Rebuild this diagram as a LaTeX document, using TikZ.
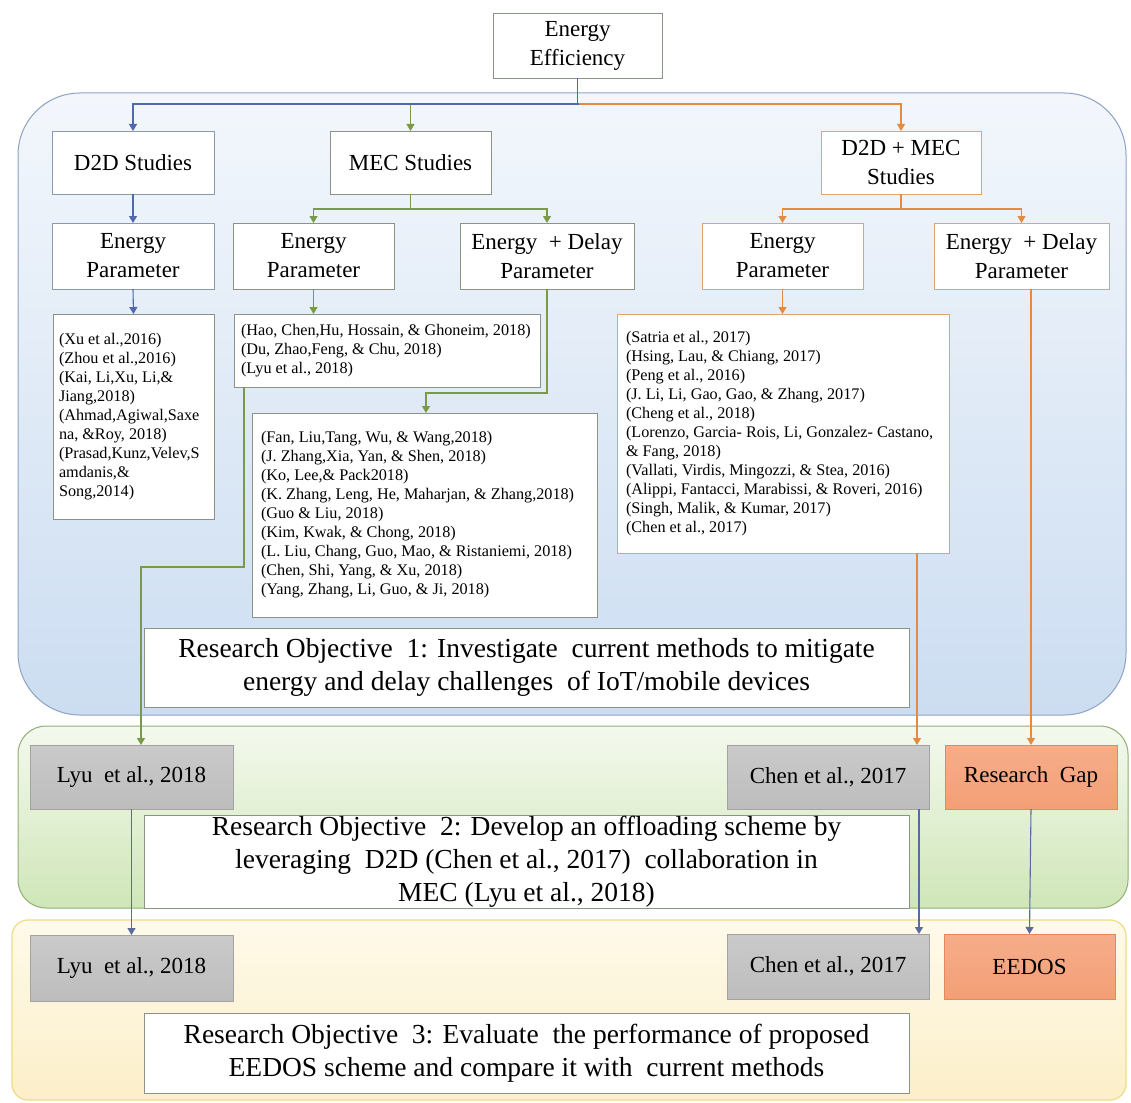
\documentclass[tikz,border=0pt]{standalone}
\usepackage{fontspec}
\setmainfont{LiberationSerif}[Extension=.ttf,UprightFont=*-Regular,BoldFont=*-Bold,ItalicFont=*-Italic,BoldItalicFont=*-BoldItalic]
\usetikzlibrary{arrows.meta}

\definecolor{cBlue}{HTML}{5068AE}
\definecolor{cGreen}{HTML}{7A9A48}
\definecolor{cOrange}{HTML}{E58A3E}
\definecolor{cDown}{HTML}{5A6C9E}
\definecolor{edgeGrey}{HTML}{8A9484}
\definecolor{edgeBlue}{HTML}{8C98B0}
\definecolor{edgeTan}{HTML}{D9A86C}
\definecolor{blueTop}{HTML}{F3F7FC}
\definecolor{blueBot}{HTML}{CCDDF1}
\definecolor{blueEdge}{HTML}{8EA2C4}
\definecolor{greenTop}{HTML}{F4F9EE}
\definecolor{greenBot}{HTML}{CFE6B8}
\definecolor{greenEdge}{HTML}{93AE72}
\definecolor{yellowTop}{HTML}{FEFAEA}
\definecolor{yellowBot}{HTML}{FCEFC9}
\definecolor{yellowEdge}{HTML}{EEDC86}
\definecolor{greyTop}{HTML}{CACACA}
\definecolor{greyFill}{HTML}{BDBDBD}
\definecolor{greyEdge}{HTML}{A3A3A3}
\definecolor{orangeTop}{HTML}{F6AD8A}
\definecolor{orangeFill}{HTML}{F39F76}
\definecolor{orangeEdge}{HTML}{E8875A}

% box placed by its corners: name, style, x1, y1, x2, y2, text
\newcommand{\mkbox}[7]{%
  \node[#2,minimum width={(#5)-(#3)},minimum height={(#6)-(#4)}]
    (#1) at ({((#3)+(#5))/2},{((#4)+(#6))/2}) {#7};}

\begin{document}
\begin{tikzpicture}[x=1pt,y=-1pt,
  every node/.style={inner sep=0pt, outer sep=0pt},
  wbox/.style={draw=edgeGrey, fill=white, line width=0.9pt, align=center,
    font=\fontsize{23}{29}\selectfont},
  bluebox/.style={wbox, draw=edgeBlue},
  tanbox/.style={wbox, draw=edgeTan},
  refbox/.style={draw=edgeGrey, fill=white, line width=0.9pt},
  tanref/.style={refbox, draw=edgeTan},
  reftext/.style={anchor=west, align=left, font=\fontsize{16.2}{19}\selectfont},
  robox/.style={draw=edgeGrey, fill=white, line width=0.9pt, align=center,
    font=\fontsize{27.5}{33}\selectfont},
  greybox/.style={draw=greyEdge, top color=greyTop, bottom color=greyFill,
    line width=0.9pt, font=\fontsize{23}{28}\selectfont},
  orbox/.style={draw=orangeEdge, top color=orangeTop, bottom color=orangeFill,
    line width=0.9pt, font=\fontsize{23}{28}\selectfont},
  conn/.style={line width=1.1pt, -{Triangle[width=8pt,length=7pt]}},
  bl/.style={conn, draw=cBlue},
  gr/.style={conn, draw=cGreen},
  og/.style={conn, draw=cOrange},
  dn/.style={conn, draw=cDown}]

\useasboundingbox (0,0) rectangle (1131,1102);

% three stage panels
\shadedraw[draw=blueEdge, top color=blueTop, bottom color=blueBot,
  line width=1pt, rounded corners=62] (18,93) rectangle (1126,715);
\shadedraw[draw=greenEdge, top color=greenTop, bottom color=greenBot,
  line width=1pt, rounded corners=28] (18,726) rectangle (1128,908);
\shadedraw[draw=yellowEdge, top color=yellowTop, bottom color=yellowBot,
  line width=1.2pt, rounded corners=16] (12,920) rectangle (1126,1100);

% top and study boxes
\mkbox{ee}{wbox}{493}{13}{662}{78}{Energy\\Efficiency}
\mkbox{d2d}{bluebox}{52}{131}{214}{194}{D2D Studies}
\mkbox{mec}{wbox}{330}{131}{491}{194}{MEC Studies}
\mkbox{dm}{tanbox}{821}{131}{981}{194}{D2D + MEC\\Studies}

% parameter boxes
\mkbox{d2dE}{bluebox}{52}{223}{214}{289}{Energy\\Parameter}
\mkbox{mecE}{wbox}{233}{223}{394}{289}{Energy\\Parameter}
\mkbox{mecED}{wbox}{460}{223}{634}{289}{Energy~ + Delay\\Parameter}
\mkbox{dmE}{tanbox}{702}{223}{863}{289}{Energy\\Parameter}
\mkbox{dmED}{tanbox}{934}{223}{1109}{289}{Energy~ + Delay\\Parameter}

% reference lists
\mkbox{d2dR}{refbox}{53}{314}{214}{519}{}
\node[reftext] (d2dRt) at ([xshift=6]d2dR.west) {(Xu et al.,2016)\\(Zhou et al.,2016)\\(Kai, Li,Xu, Li,\&\\Jiang,2018)\\(Ahmad,Agiwal,Saxe\\na, \&Roy, 2018)\\(Prasad,Kunz,Velev,S\\amdanis,\&\\Song,2014)};

\mkbox{mecER}{refbox}{234}{314}{540}{387}{}
\node[reftext] (mecERt) at ([xshift=7]mecER.west) {(Hao, Chen,Hu, Hossain, \& Ghoneim, 2018)\\(Du, Zhao,Feng, \& Chu, 2018)\\(Lyu et al., 2018)};

\mkbox{mecEDR}{refbox}{252}{413}{597}{617}{}
\node[reftext] (mecEDRt) at ([xshift=9]mecEDR.west) {(Fan, Liu,Tang, Wu, \& Wang,2018)\\(J. Zhang,Xia, Yan, \& Shen, 2018)\\(Ko, Lee,\& Pack2018)\\(K. Zhang, Leng, He, Maharjan, \& Zhang,2018)\\(Guo \& Liu, 2018)\\(Kim, Kwak, \& Chong, 2018)\\(L. Liu, Chang, Guo, Mao, \& Ristaniemi, 2018)\\(Chen, Shi, Yang, \& Xu, 2018)\\(Yang, Zhang, Li, Guo, \& Ji, 2018)};

\mkbox{dmR}{tanref}{617}{314}{949}{553}{}
\node[reftext] (dmRt) at ([xshift=9]dmR.west) {(Satria et al., 2017)\\(Hsing, Lau, \& Chiang, 2017)\\(Peng et al., 2016)\\(J. Li, Li, Gao, Gao, \& Zhang, 2017)\\(Cheng et al., 2018)\\(Lorenzo, Garcia- Rois, Li, Gonzalez- Castano,\\\& Fang, 2018)\\(Vallati, Virdis, Mingozzi, \& Stea, 2016)\\(Alippi, Fantacci, Marabissi, \& Roveri, 2016)\\(Singh, Malik, \& Kumar, 2017)\\(Chen et al., 2017)};

% research objectives
\mkbox{ro1}{robox}{144}{628}{909}{707}{Research Objective~ 1: Investigate~ current methods to mitigate\\energy and delay challenges~ of IoT/mobile devices}
\mkbox{ro2}{robox}{144}{815}{909}{908}{Research Objective~ 2: Develop an offloading scheme by\\leveraging~ D2D (Chen et al., 2017)~ collaboration in\\MEC (Lyu et al., 2018)}
\mkbox{ro3}{robox}{144}{1013}{909}{1093}{Research Objective~ 3: Evaluate~ the performance of proposed\\EEDOS scheme and compare it with~ current methods}

% selected works and outcomes
\mkbox{lyu2}{greybox}{30}{745}{233}{809}{Lyu~ et al., 2018}
\mkbox{chen2}{greybox}{727}{745}{929}{809}{Chen et al., 2017}
\mkbox{gap}{orbox}{945}{745}{1117}{809}{Research~ Gap}
\mkbox{lyu3}{greybox}{30}{935}{233}{1001}{Lyu~ et al., 2018}
\mkbox{chen3}{greybox}{727}{934}{929}{999}{Chen et al., 2017}
\mkbox{eedos}{orbox}{944}{934}{1115}{999}{EEDOS}

% helper points for routed connectors
\coordinate (split) at (579,104);
\coordinate (mecSplit) at (411,209);
\coordinate (dmSplit) at (901,209);
\coordinate (edTurn) at (426,393);
\coordinate (lyuDrop) at (244,0);
\coordinate (lyuTurn) at (141,567);
\coordinate (chenDrop) at (917,0);
\coordinate (chenDown) at (919,0);

% top level branches
\draw[gr] (ee.south) |- (split) -| (mec.north);
\draw[og] (ee.south) |- (split) -| (dm.north);
\draw[bl] (ee.south) |- (split) -| (d2d.north);

% study to parameter
\draw[bl] (d2d.south) -- (d2dE.north);
\draw[gr] (mec.south) |- (mecSplit) -| (mecE.north);
\draw[gr] (mec.south) |- (mecSplit) -| (mecED.north);
\draw[og] (dm.south) |- (dmSplit) -| (dmE.north);
\draw[og] (dm.south) |- (dmSplit) -| (dmED.north);

% parameter to references
\draw[bl] (d2dE.south) -- (d2dR.north);
\draw[gr] (mecE.south) -- (mecE.south |- mecER.north);
\draw[gr] (mecED.south) |- (edTurn) -- (edTurn |- mecEDR.north);
\draw[og] (dmE.south) -- (dmE.south |- dmR.north);

% references to selected works
\draw[gr] (mecER.south -| lyuDrop) |- (lyuTurn) -- (lyuTurn |- lyu2.north);
\draw[og] (dmR.south -| chenDrop) -- (chenDrop |- chen2.north);
\draw[og] (gap.north |- dmED.south) -- (gap.north);

% stage two to stage three
\draw[dn] (lyu2.south) -- (lyu3.north);
\draw[dn] (chen2.south -| chenDown) -- (chenDown |- chen3.north);
\draw[dn] (gap.south) -- (eedos.north);

\end{tikzpicture}
\end{document}
